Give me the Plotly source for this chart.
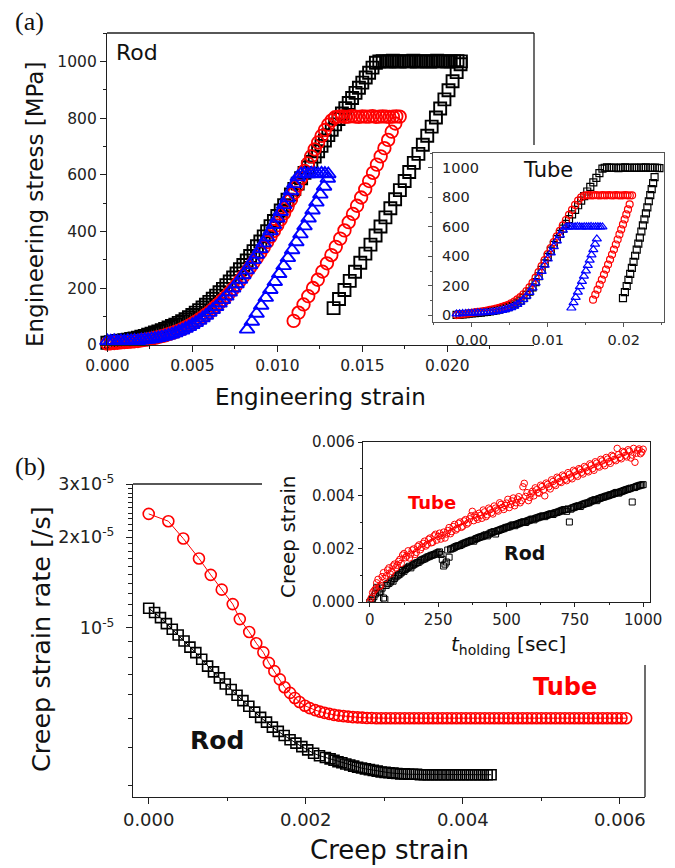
import plotly.graph_objects as go

# ---------------- DATA ----------------
# Panel (a) main: Rod, engineering strain / stress [MPa]
a_load_strain = [0.0000,0.0002,0.0004,0.0006,0.0008,0.0010,0.0012,0.0014,0.0016,0.0018,
                 0.0020,0.0022,0.0024,0.0026,0.0028,0.0030,0.0032,0.0034,0.0036,0.0038,
                 0.0040,0.0042,0.0044,0.0046,0.0048,0.0050,0.0052,0.0054,0.0056,0.0058,
                 0.0060,0.0062,0.0064,0.0066,0.0068,0.0070,0.0072,0.0074,0.0076,0.0078,
                 0.0080,0.0082,0.0084,0.0086,0.0088,0.0090,0.0092,0.0094,0.0096,0.0098,
                 0.0100,0.0102,0.0104,0.0106,0.0108,0.0110,0.0112,0.0114,0.0116,0.0118,
                 0.0120,0.0122,0.0124,0.0126,0.0128,0.0130,0.0132,0.0134,0.0136,0.0138,
                 0.0140,0.0142,0.0144,0.0146,0.0148,0.0150,0.0152,0.0154,0.0156,0.0158]
a_black_load = [8,10,12,14,15,17,19,21,23,26,29,32,36,40,44,48,52,57,62,67,
                72,78,84,91,98,106,114,123,132,142,152,163,174,186,198,211,224,238,252,267,
                282,298,314,331,348,365,383,401,419,437,455,474,493,512,531,550,569,588,607,626,
                645,664,683,702,721,740,759,778,797,816,835,853,871,889,907,925,943,960,978,995]
a_red_load = [5,6,7,8,9,10,11,12,13,14,16,18,20,22,25,28,31,34,38,42,
              46,51,56,62,68,75,82,90,98,107,116,126,137,148,160,172,185,198,212,227,
              242,258,274,291,308,326,344,363,382,402,422,443,465,488,512,537,562,588,614,640,
              665,690,714,737,758,777,792,803]
a_blue_load = [14,13,15,12,14,13,15,14,16,15,17,18,19,21,23,25,28,31,34,38,
               42,47,52,58,64,71,78,86,95,104,114,124,135,147,159,172,186,200,215,231,
               247,264,282,300,319,339,359,380,402,424,447,470,494,518,543,568,592,603]
a_black_plat_x = [0.0160,0.0162,0.0164,0.0166,0.0168,0.0170,0.0172,0.0174,0.0176,0.0178,
                  0.0180,0.0182,0.0184,0.0186,0.0188,0.0190,0.0192,0.0194,0.0196,0.0198,
                  0.0200,0.0202,0.0204,0.0206,0.0208]
a_black_plat_y = [1000,1001,999,1000,1002,1000,999,1001,1000,1000,1002,999,1000,1001,1000,
                  999,1000,1002,1000,1001,999,1000,1000,1001,1000]
a_red_plat_x = [0.0136,0.0138,0.0140,0.0142,0.0144,0.0146,0.0148,0.0150,0.0152,0.0154,
                0.0156,0.0158,0.0160,0.0162,0.0164,0.0166,0.0168,0.0170,0.0172]
a_red_plat_y = [805,806,804,805,807,805,804,806,805,805,807,804,805,806,805,804,805,806,805]
a_blue_plat_x = [0.0116,0.0118,0.0120,0.0122,0.0124,0.0126,0.0128,0.0130]
a_blue_plat_y = [604,603,605,604,603,605,604,603]
a_black_unl_x = [0.02078,0.02055,0.02031,0.02007,0.01983,0.01958,0.01933,0.01908,0.01882,0.01856,
                 0.01830,0.01803,0.01776,0.01749,0.01721,0.01693,0.01665,0.01636,0.01607,0.01578,
                 0.01548,0.01518,0.01488,0.01457,0.01426,0.01395,0.01363,0.01331]
a_black_unl_y = [990,962,930,898,866,834,802,770,738,706,674,642,610,578,546,514,482,450,418,386,
                 354,322,290,258,226,194,162,130]
a_red_unl_x = [0.01694,0.01673,0.01652,0.01630,0.01608,0.01586,0.01563,0.01540,0.01517,0.01493,
               0.01469,0.01445,0.01420,0.01395,0.01370,0.01344,0.01318,0.01292,0.01265,0.01238,
               0.01210,0.01182,0.01154,0.01125,0.01096]
a_red_unl_y = [781,752,723,694,665,636,607,578,549,520,491,462,433,404,375,346,317,288,259,230,
               201,172,143,114,85]
a_blue_unl_x = [0.01297,0.01275,0.01253,0.01230,0.01207,0.01184,0.01160,0.01136,0.01112,0.01087,
                0.01062,0.01037,0.01011,0.00985,0.00959,0.00932,0.00905,0.00878,0.00850,0.00822]
a_blue_unl_y = [587,559,531,503,475,447,419,391,363,335,307,279,251,223,195,167,139,111,83,55]
a_x_ticks = [0.000, 0.005, 0.010, 0.015, 0.020]

# Panel (a) inset: Tube
i_load_strain = [-0.0020,-0.0016,-0.0012,-0.0008,-0.0004,0.0000,0.0004,0.0008,0.0012,0.0016,
                 0.0020,0.0024,0.0028,0.0032,0.0036,0.0040,0.0044,0.0048,0.0052,0.0056,
                 0.0060,0.0064,0.0068,0.0072,0.0076,0.0080,0.0084,0.0088,0.0092,0.0096,
                 0.0100,0.0104,0.0108,0.0112,0.0116,0.0120,0.0124,0.0128,0.0132,0.0136,
                 0.0140,0.0144,0.0148,0.0152,0.0156,0.0160,0.0164,0.0168,0.0172]
i_black_load = [3,5,7,9,11,13,15,17,19,21,24,27,30,34,38,43,49,56,64,74,
                86,100,117,137,160,190,225,265,308,352,396,438,478,516,552,587,620,652,684,715,
                746,777,808,839,870,901,932,963,994]
i_red_load = [2,5,8,11,14,17,20,23,26,29,33,37,41,46,51,57,64,72,82,94,
              108,124,143,165,190,220,255,293,333,374,415,456,496,535,573,610,646,681,715,748,
              778,800,812]
i_blue_load = [10,11,12,13,14,15,16,17,18,19,20,22,24,27,30,34,39,45,53,63,
               75,90,108,130,156,186,220,258,298,340,382,424,465,505,543,578,598]
i_black_plat_x = [0.0175,0.0178,0.0181,0.0184,0.0187,0.0190,0.0193,0.0196,0.0199,0.0202,
                  0.0205,0.0208,0.0211,0.0214,0.0217,0.0220,0.0223,0.0226,0.0229,0.0232,
                  0.0235,0.0238,0.0241,0.0244,0.0247]
i_black_plat_y = [1000,1002,999,1000,1001,1000,998,1001,1000,1002,1000,999,1000,1001,1000,
                  999,1001,1000,1002,1000,999,1000,1001,1000,998]
i_red_plat_x = [0.0151,0.0154,0.0157,0.0160,0.0163,0.0166,0.0169,0.0172,0.0175,0.0178,
                0.0181,0.0184,0.0187,0.0190,0.0193,0.0196,0.0199,0.0202,0.0205,0.0208,0.0211]
i_red_plat_y = [813,814,812,813,815,813,812,814,813,813,815,812,813,814,813,812,813,814,813,812,813]
i_blue_plat_x = [0.0127,0.0130,0.0133,0.0136,0.0139,0.0142,0.0145,0.0148,0.0151,0.0154,
                 0.0157,0.0160,0.0163,0.0166,0.0169,0.0172]
i_blue_plat_y = [600,601,599,600,602,600,599,601,600,600,602,599,600,601,600,599]
i_black_unl_x = [0.02406,0.02387,0.02368,0.02349,0.02330,0.02311,0.02292,0.02272,0.02252,0.02232,
                 0.02212,0.02192,0.02171,0.02150,0.02129,0.02107,0.02085,0.02062,0.02039,0.02015,0.01990]
i_black_unl_y = [937,896,855,814,773,732,691,650,609,568,527,486,445,404,363,322,281,240,199,158,117]
i_red_unl_x = [0.02078,0.02056,0.02034,0.02012,0.01990,0.01967,0.01944,0.01920,0.01896,0.01871,
               0.01846,0.01820,0.01794,0.01767,0.01740,0.01712,0.01684,0.01655,0.01626,0.01596]
i_red_unl_y = [752,718,684,650,616,582,548,514,480,446,412,378,344,310,276,242,208,174,140,106]
i_blue_unl_x = [0.01646,0.01623,0.01600,0.01576,0.01552,0.01527,0.01502,0.01476,0.01450,0.01423,
                0.01396,0.01368,0.01340,0.01311]
i_blue_unl_y = [518,482,446,410,374,338,302,266,230,194,158,122,86,50]
i_y_ticks = [0, 200, 400, 600, 800, 1000]

# Panel (b) main: creep strain rate [/s] vs creep strain (rates in units of 1e-6 /s)
tube_rate_x = [0.00000,0.00025,0.00044,0.00064,0.00079,0.00093,0.00107,0.00116,0.00128,0.00137,
               0.00146,0.00153,0.00160,0.00167,0.00173,0.00180,0.00186,0.00192,0.00199,0.00205,
               0.00212,0.00218,0.00224,0.00230,0.00236,0.00242,0.00248,0.00254,0.00260,0.00266,
               0.00272,0.00278,0.00284,0.00290,0.00296,0.00302,0.00308,0.00314,0.00320,0.00326,
               0.00332,0.00338,0.00344,0.00350,0.00356,0.00362,0.00368,0.00374,0.00380,0.00386,
               0.00392,0.00398,0.00404,0.00410,0.00416,0.00422,0.00428,0.00434,0.00440,0.00446,
               0.00452,0.00458,0.00464,0.00470,0.00476,0.00482,0.00488,0.00494,0.00500,0.00506,
               0.00512,0.00518,0.00524,0.00530,0.00536,0.00542,0.00548,0.00554,0.00560,0.00566,
               0.00572,0.00578,0.00584,0.00590,0.00596,0.00602,0.00608]
tube_rate_e6 = [23.9,22.6,19.8,17.0,15.0,13.4,12.0,10.7,9.70,8.90,
                8.30,7.66,7.19,6.75,6.36,6.09,5.86,5.68,5.52,5.42,
                5.34,5.28,5.23,5.19,5.15,5.12,5.10,5.08,5.06,5.05,
                5.04,5.03,5.03,5.02,5.02,5.02,5.02,5.02,5.02,5.02,
                5.02,5.02,5.02,5.02,5.02,5.02,5.02,5.02,5.02,5.02,
                5.02,5.02,5.02,5.02,5.02,5.02,5.02,5.02,5.02,5.02,
                5.02,5.02,5.02,5.02,5.02,5.02,5.02,5.02,5.02,5.02,
                5.02,5.02,5.02,5.02,5.02,5.02,5.02,5.02,5.02,5.02,
                5.02,5.02,5.02,5.02,5.02,5.02,5.02]
rod_rate_x = [0.000000,0.000075,0.000150,0.000225,0.000300,0.000375,0.000450,0.000525,0.000600,0.000675,
              0.000750,0.000825,0.000900,0.000975,0.001050,0.001125,0.001200,0.001275,0.001350,0.001425,
              0.001500,0.001575,0.001650,0.001725,0.001800,0.001875,0.001950,0.002025,0.002100,0.002175,
              0.002250,0.00231,0.00236,0.00241,0.00246,0.00251,0.00256,0.00261,0.00266,0.00271,
              0.00276,0.00281,0.00286,0.00291,0.00296,0.00301,0.00306,0.00311,0.00316,0.00321,
              0.00326,0.00331,0.00336,0.00341,0.00346,0.00351,0.00356,0.00361,0.00366,0.00371,
              0.00376,0.00381,0.00386,0.00391,0.00396,0.00401,0.00406,0.00411,0.00416,0.00421,
              0.00426,0.00431,0.00436]
rod_rate_e6 = [11.63,11.25,10.82,10.34,9.90,9.48,9.05,8.64,8.28,7.87,
               7.47,7.15,6.83,6.52,6.25,5.98,5.74,5.50,5.26,5.05,
               4.87,4.69,4.54,4.40,4.26,4.15,4.04,3.94,3.84,3.77,
               3.72,3.68,3.64,3.60,3.57,3.54,3.51,3.48,3.45,3.43,
               3.41,3.39,3.37,3.35,3.33,3.32,3.31,3.30,3.29,3.28,
               3.28,3.27,3.27,3.27,3.26,3.26,3.26,3.26,3.26,3.26,
               3.26,3.26,3.26,3.26,3.26,3.26,3.26,3.26,3.26,3.26,
               3.26,3.26,3.26]

# Panel (b) inset: creep strain vs holding time [sec]
t_holding = [0,10,20,30,40,50,60,70,80,90,100,110,120,130,140,150,160,170,180,190,
             200,210,220,230,240,250,260,270,280,290,300,310,320,330,340,350,360,370,380,390,
             400,410,420,430,440,450,460,470,480,490,500,510,520,530,540,550,560,570,580,590,
             600,610,620,630,640,650,660,670,680,690,700,710,720,730,740,750,760,770,780,790,
             800,810,820,830,840,850,860,870,880,890,900,910,920,930,940,950,960,970,980,990,1000]
tube_creep = [0.00002,0.00035,0.00048,0.00085,0.00062,0.00110,0.00098,0.00128,0.00115,0.00142,
              0.00138,0.00160,0.00176,0.00166,0.00192,0.00180,0.00199,0.00186,0.00214,0.00205,
              0.00228,0.00216,0.00240,0.00224,0.00254,0.00246,0.00236,0.00262,0.00255,0.00279,
              0.00264,0.00291,0.00276,0.00300,0.00284,0.00309,0.00297,0.00323,0.00305,0.00317,
              0.00333,0.00314,0.00338,0.00327,0.00346,0.00330,0.00352,0.00341,0.00366,0.00347,
              0.00371,0.00354,0.00379,0.00361,0.00386,0.00372,0.00432,0.00396,0.00380,0.00406,
              0.00398,0.00421,0.00408,0.00433,0.00398,0.00441,0.00424,0.00452,0.00437,0.00463,
              0.00448,0.00471,0.00455,0.00479,0.00462,0.00489,0.00471,0.00496,0.00480,0.00503,
              0.00488,0.00513,0.00494,0.00521,0.00506,0.00529,0.00511,0.00536,0.00520,0.00546,
              0.00530,0.00553,0.00537,0.00561,0.00544,0.00566,0.00551,0.00524,0.00569,0.00556,
              0.00573]
rod_creep = [0.00000,0.00012,0.00030,0.00045,0.00040,0.00015,0.00062,0.00070,0.00082,0.00088,
             0.00098,0.00105,0.00118,0.00122,0.00130,0.00128,0.00140,0.00146,0.00150,0.00158,
             0.00162,0.00168,0.00172,0.00176,0.00180,0.00185,0.00178,0.00135,0.00150,0.00168,
             0.00200,0.00205,0.00210,0.00212,0.00218,0.00222,0.00226,0.00230,0.00228,0.00238,
             0.00242,0.00245,0.00250,0.00248,0.00258,0.00262,0.00255,0.00268,0.00272,0.00275,
             0.00280,0.00282,0.00288,0.00286,0.00292,0.00296,0.00300,0.00298,0.00305,0.00310,
             0.00308,0.00315,0.00318,0.00322,0.00320,0.00326,0.00330,0.00328,0.00335,0.00338,
             0.00342,0.00346,0.00340,0.00300,0.00352,0.00356,0.00360,0.00358,0.00366,0.00370,
             0.00372,0.00378,0.00382,0.00380,0.00388,0.00392,0.00395,0.00398,0.00402,0.00405,
             0.00410,0.00408,0.00414,0.00418,0.00422,0.00425,0.00375,0.00430,0.00435,0.00438,
             0.00440]
t_holding_mid = [5,15,25,35,45,55,65,75,85,95,105,115,125,135,145,155,165,175,185,195,
                 205,215,225,235,245,255,265,275,285,295,305,315,325,335,345,355,365,375,385,395,
                 405,415,425,435,445,455,465,475,485,495,505,515,525,535,545,555,565,575,585,595,
                 605,615,625,635,645,655,665,675,685,695,705,715,725,735,745,755,765,775,785,795,
                 805,815,825,835,845,855,865,875,885,895,905,915,925,935,945,955,965,975,985,995]
tube_creep_mid = [0.00015,0.00042,0.00072,0.00058,0.00095,0.00088,0.00120,0.00105,0.00135,0.00128,
                  0.00152,0.00145,0.00182,0.00172,0.00165,0.00195,0.00178,0.00208,0.00196,0.00220,
                  0.00210,0.00235,0.00222,0.00248,0.00232,0.00258,0.00250,0.00240,0.00268,0.00256,
                  0.00283,0.00270,0.00295,0.00280,0.00304,0.00292,0.00312,0.00340,0.00326,0.00310,
                  0.00325,0.00345,0.00320,0.00352,0.00335,0.00360,0.00345,0.00372,0.00355,0.00362,
                  0.00385,0.00366,0.00390,0.00372,0.00395,0.00380,0.00445,0.00410,0.00392,0.00415,
                  0.00428,0.00410,0.00438,0.00420,0.00446,0.00432,0.00458,0.00442,0.00468,0.00452,
                  0.00476,0.00460,0.00485,0.00468,0.00494,0.00476,0.00500,0.00486,0.00508,0.00492,
                  0.00518,0.00500,0.00526,0.00510,0.00535,0.00518,0.00542,0.00526,0.00550,0.00535,
                  0.00576,0.00542,0.00565,0.00550,0.00571,0.00540,0.00576,0.00558,0.00574,0.00562]
rod_creep_mid = [0.00005,0.00020,0.00055,0.00035,0.00052,0.00010,0.00068,0.00075,0.00078,0.00094,
                 0.00102,0.00110,0.00115,0.00126,0.00134,0.00136,0.00143,0.00148,0.00155,0.00160,
                 0.00165,0.00170,0.00175,0.00178,0.00183,0.00188,0.00160,0.00142,0.00195,0.00198,
                 0.00202,0.00208,0.00211,0.00215,0.00220,0.00224,0.00228,0.00232,0.00235,0.00240,
                 0.00244,0.00247,0.00252,0.00254,0.00260,0.00264,0.00266,0.00270,0.00274,0.00278,
                 0.00281,0.00285,0.00289,0.00290,0.00294,0.00298,0.00301,0.00303,0.00307,0.00311,
                 0.00312,0.00316,0.00320,0.00323,0.00324,0.00328,0.00331,0.00333,0.00336,0.00340,
                 0.00344,0.00347,0.00349,0.00348,0.00354,0.00358,0.00361,0.00364,0.00368,0.00371,
                 0.00375,0.00380,0.00384,0.00386,0.00390,0.00393,0.00397,0.00400,0.00403,0.00407,
                 0.00411,0.00412,0.00416,0.00420,0.00423,0.00427,0.00429,0.00433,0.00436,0.00439]

# ---------------- FIGURE ----------------
W, H = 675, 868
OFF = 8  # the page body margin shifts the figure by this many pixels
def fx(p): return (p - OFF) / W
def fy(p): return 1 - (p - OFF) / H

FONT = "DejaVu Sans"
BLACK, RED, BLUE = "#000000", "#ff0000", "#0000ff"
AXC = "#1f1f1f"

fig = go.Figure()

def add(xs, ys, xa, ya, symbol, color, size, lw, mode="markers", clip=True):
    fig.add_trace(go.Scatter(
        x=xs, y=ys, xaxis=xa, yaxis=ya, mode=mode, cliponaxis=clip,
        marker=dict(symbol=symbol, size=size, color=color, line=dict(color=color, width=lw)),
        line=dict(color=color, width=1), showlegend=False, hoverinfo="skip"))

# (a) main
nb, nr, nl = len(a_black_load), len(a_red_load), len(a_blue_load)
add(a_load_strain[:nb] + a_black_plat_x + a_black_unl_x, a_black_load + a_black_plat_y + a_black_unl_y,
    "x", "y", "square-open", BLACK, 12, 1.9, clip=False)
add(a_load_strain[:nr] + a_red_plat_x + a_red_unl_x, a_red_load + a_red_plat_y + a_red_unl_y,
    "x", "y", "circle-open", RED, 12.5, 1.8, clip=False)
add(a_load_strain[:nl] + a_blue_plat_x + a_blue_unl_x, a_blue_load + a_blue_plat_y + a_blue_unl_y,
    "x", "y", "triangle-up-open", BLUE, 13, 1.9, clip=False)

# (a) inset
nb, nr, nl = len(i_black_load), len(i_red_load), len(i_blue_load)
add(i_load_strain[:nb] + i_black_plat_x + i_black_unl_x, i_black_load + i_black_plat_y + i_black_unl_y,
    "x2", "y2", "square-open", BLACK, 7, 1.2)
add(i_load_strain[:nr] + i_red_plat_x + i_red_unl_x, i_red_load + i_red_plat_y + i_red_unl_y,
    "x2", "y2", "circle-open", RED, 7, 1.2)
add(i_load_strain[:nl] + i_blue_plat_x + i_blue_unl_x, i_blue_load + i_blue_plat_y + i_blue_unl_y,
    "x2", "y2", "triangle-up-open", BLUE, 8, 1.2)

# (b) main
add(tube_rate_x, [v * 1e-6 for v in tube_rate_e6], "x3", "y3", "circle-open", RED, 11, 1.6,
    mode="lines+markers", clip=False)
add(rod_rate_x, [v * 1e-6 for v in rod_rate_e6], "x3", "y3", "square-open", BLACK, 10, 1.6,
    mode="lines+markers", clip=False)

# (b) inset
add(t_holding + t_holding_mid, rod_creep + rod_creep_mid, "x4", "y4", "square-open", BLACK, 6, 1.0)
add(t_holding + t_holding_mid, tube_creep + tube_creep_mid, "x4", "y4", "circle-open", RED, 6.5, 1.0)


def axis(domain, rng, anchor, fsize, ticklen=6, mirror=False, linecolor=AXC, minor=None, **kw):
    d = dict(domain=domain, range=rng, anchor=anchor, showline=True, linecolor=linecolor,
             linewidth=1.3, mirror=mirror, ticks="outside", ticklen=ticklen, tickwidth=1.2,
             tickcolor=linecolor, showgrid=False, zeroline=False, automargin=False,
             tickfont=dict(family=FONT, size=fsize, color="#222"))
    if minor is not None:
        m = dict(ticks="outside", ticklen=ticklen * 0.55, tickwidth=1.0, tickcolor=linecolor, showgrid=False)
        m.update(minor)
        d["minor"] = m
    d.update(kw)
    return d

layout = dict(
    width=W, height=H, margin=dict(l=0, r=0, t=0, b=0, pad=0, autoexpand=False),
    paper_bgcolor="white", plot_bgcolor="white", showlegend=False,
    xaxis=axis([fx(107), fx(534)], [-0.00002, 0.0251], "y", 15.5,
               tickmode="array", tickvals=a_x_ticks, tickformat=".3f",
               minor=dict(tickmode="array", tickvals=[0.0025, 0.0075, 0.0125, 0.0175, 0.0225])),
    yaxis=axis([fy(345), fy(33)], [0, 1100], "x", 15.5,
               tick0=0, dtick=200, minor=dict(dtick=100, tick0=0)),
    xaxis2=axis([fx(433), fx(664)], [-0.0051, 0.0253], "y2", 14.5, ticklen=4, mirror=True,
                linecolor="#555", tick0=0, dtick=0.01, tickformat=".2f",
                minor=dict(dtick=0.005, tick0=0)),
    yaxis2=axis([fy(322), fy(153)], [-45, 1100], "x2", 14.5, ticklen=4, mirror=True,
                linecolor="#555", tick0=0, dtick=200, showticklabels=False,
                minor=dict(dtick=100, tick0=0)),
    xaxis3=axis([fx(133), fx(645)], [-0.0002, 0.00632], "y3", 18,
                tick0=0, dtick=0.002, tickformat=".3f", minor=dict(dtick=0.001, tick0=0)),
    yaxis3=axis([fy(797), fy(484)], [-5.5607, -4.5225], "x3", 17.5, type="log",
                tickmode="array", tickvals=[1e-5, 2e-5, 3e-5],
                ticktext=["10<sup>-5</sup>", "2x10<sup>-5</sup>", "3x10<sup>-5</sup>"],
                ticklabelstandoff=8,
                minor=dict(tickmode="array", ticklen=3.5,
                           tickvals=[3e-6, 4e-6, 5e-6, 6e-6, 7e-6, 8e-6, 9e-6,
                                     1.1e-5, 1.2e-5, 1.3e-5, 1.4e-5, 1.5e-5, 1.6e-5, 1.7e-5, 1.8e-5, 1.9e-5,
                                     2.1e-5, 2.2e-5, 2.3e-5, 2.4e-5, 2.5e-5, 2.6e-5, 2.7e-5, 2.8e-5, 2.9e-5])),
    xaxis4=axis([fx(363), fx(650)], [-25, 1025], "y4", 15, ticklen=4, mirror=True,
                tickmode="array", tickvals=[0, 250, 500, 750, 1000],
                minor=dict(tickmode="array", tickvals=[125, 375, 625, 875])),
    yaxis4=axis([fy(602), fy(442)], [0, 0.006], "x4", 15, ticklen=4, mirror=True,
                tick0=0, dtick=0.002, tickformat=".3f", minor=dict(dtick=0.001, tick0=0)),
)
fig.update_layout(**layout)

# partial frame lines (parts hidden by insets in the original)
for (x0, y0, x1, y1) in [(107, 33, 534, 33), (534, 33, 534, 145),
                         (133, 484, 262, 484), (645, 665, 645, 797)]:
    fig.add_shape(type="line", xref="paper", yref="paper", x0=fx(x0), y0=fy(y0), x1=fx(x1), y1=fy(y1),
                  line=dict(color=AXC, width=1.3), layer="above")

# inset (a) y tick labels drawn inside the frame, placed on the inset's own y scale
for v in i_y_ticks:
    fig.add_annotation(text=str(v), x=0.03, y=v, xref="x2 domain", yref="y2", showarrow=False,
                       xanchor="left", yanchor="middle",
                       font=dict(family=FONT, size=14.5, color="#222"))


def ann(text, x, y, size, color="#111", angle=0, family=FONT, xanchor="center"):
    fig.add_annotation(text=text, x=fx(x), y=fy(y), xref="paper", yref="paper", showarrow=False,
                       font=dict(family=family, size=size, color=color), textangle=angle,
                       xanchor=xanchor, yanchor="middle")

ann("(a)", 30, 22, 26, family="Liberation Serif")
ann("(b)", 30, 467, 26, family="Liberation Serif")
ann("Rod", 114, 52, 22, xanchor="left")
ann("Tube", 548, 170, 21)
ann("Engineering stress [MPa]", 35, 205, 23, angle=-90)
ann("Engineering strain", 320, 397, 23)
ann("Creep strain rate [/s]", 41, 639, 25.5, angle=-90)
ann("Creep strain", 389, 850, 26)
ann("<b>Rod</b>", 217, 740, 25)
ann("<b>Tube</b>", 565, 687, 24, color=RED)
ann("<b>Tube</b>", 432, 502, 18, color=RED)
ann("<b>Rod</b>", 524, 553, 19)
ann("Creep strain", 288, 537, 20, angle=-90)
ann("<i>t</i><sub>holding</sub> [sec]", 508, 645, 20)

fig.write_html("out.html")
